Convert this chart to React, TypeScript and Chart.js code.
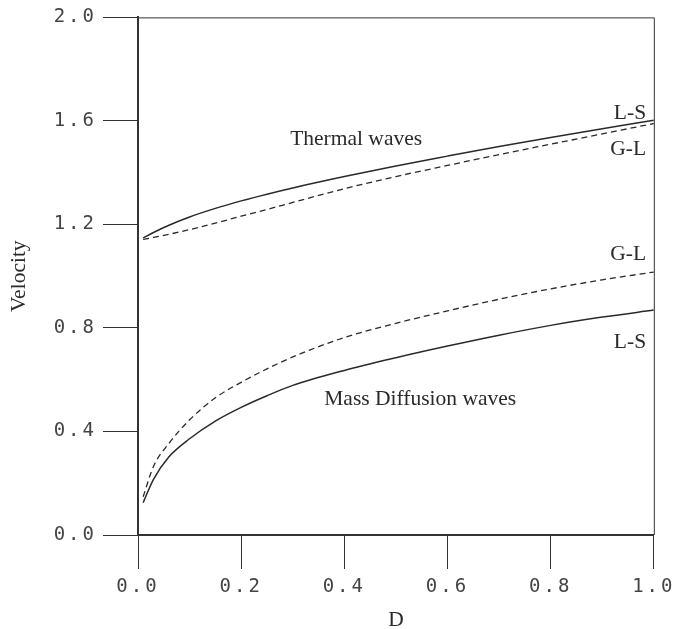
import React, { useEffect, useRef } from "react";
import { Chart, registerables } from "chart.js";

Chart.register(...registerables);

const dValues = [0.01, 0.03, 0.06, 0.1, 0.15, 0.2, 0.25, 0.3, 0.4, 0.5, 0.6, 0.7, 0.8, 0.9, 1.0];
const thermalLS = [1.148, 1.169, 1.197, 1.229, 1.262, 1.291, 1.317, 1.341, 1.385, 1.426, 1.464, 1.501, 1.536, 1.57, 1.603];
const thermalGL = [1.142, 1.15, 1.162, 1.18, 1.205, 1.232, 1.258, 1.285, 1.338, 1.385, 1.428, 1.47, 1.51, 1.55, 1.59];
const massLS = [0.125, 0.215, 0.302, 0.372, 0.44, 0.493, 0.538, 0.578, 0.636, 0.685, 0.73, 0.772, 0.81, 0.842, 0.869];
const massGL = [0.148, 0.265, 0.354, 0.445, 0.53, 0.59, 0.642, 0.688, 0.763, 0.818, 0.866, 0.911, 0.951, 0.986, 1.016];
const xTicks = [0, 0.2, 0.4, 0.6, 0.8, 1.0];
const yTicks = [0, 0.4, 0.8, 1.2, 1.6, 2.0];

const annotations = [
  { text: "Thermal waves", x: 0.295, y: 1.506, align: "left" },
  { text: "L-S", x: 0.985, y: 1.606, align: "right" },
  { text: "G-L", x: 0.985, y: 1.467, align: "right" },
  { text: "G-L", x: 0.985, y: 1.064, align: "right" },
  { text: "L-S", x: 0.985, y: 0.722, align: "right" },
  { text: "Mass Diffusion waves", x: 0.361, y: 0.502, align: "left" },
];

const INK = "#2a2a2a";
const SERIF = '"Liberation Serif", serif';

function series(values: number[]) {
  return dValues.map((d, i) => ({ x: d, y: values[i] }));
}

export default function App() {
  const ref = useRef<HTMLCanvasElement | null>(null);

  useEffect(() => {
    if (!ref.current) return;
    const framePlugin = {
      id: "frame",
      afterDatasetsDraw(chart: any) {
        const ctx = chart.ctx;
        const { top, right, left, bottom } = chart.chartArea;
        ctx.save();
        ctx.strokeStyle = "#333";
        ctx.lineWidth = 1;
        ctx.beginPath();
        ctx.moveTo(left, top + 0.5);
        ctx.lineTo(right + 0.5, top + 0.5);
        ctx.lineTo(right + 0.5, bottom);
        ctx.stroke();
        const xs = chart.scales.x;
        const ys = chart.scales.y;
        ctx.fillStyle = INK;
        ctx.font = `21.5px ${SERIF}`;
        ctx.textBaseline = "alphabetic";
        for (const a of annotations) {
          ctx.textAlign = a.align as CanvasTextAlign;
          ctx.fillText(a.text, xs.getPixelForValue(a.x), ys.getPixelForValue(a.y));
        }
        ctx.restore();
        (ctx as any).letterSpacing = "3px";
      },
      afterDraw(chart: any) {
        (chart.ctx as any).letterSpacing = "0px";
      },
    };

    const tickFont = { family: '"DejaVu Sans Mono", monospace', size: 19 };

    const chart = new Chart(ref.current, {
      type: "line",
      data: {
        datasets: [
          { label: "Thermal L-S", data: series(thermalLS), borderColor: INK, borderWidth: 1.5, pointRadius: 0, cubicInterpolationMode: "monotone" },
          { label: "Thermal G-L", data: series(thermalGL), borderColor: INK, borderWidth: 1.3, borderDash: [6, 4], pointRadius: 0, cubicInterpolationMode: "monotone" },
          { label: "Mass L-S", data: series(massLS), borderColor: INK, borderWidth: 1.5, pointRadius: 0, cubicInterpolationMode: "monotone" },
          { label: "Mass G-L", data: series(massGL), borderColor: INK, borderWidth: 1.3, borderDash: [6, 4], pointRadius: 0, cubicInterpolationMode: "monotone" },
        ],
      },
      options: {
        animation: false,
        responsive: true,
        maintainAspectRatio: false,
        layout: { padding: { top: 17, right: 22, left: 0, bottom: 0 } },
        plugins: { legend: { display: false }, tooltip: { enabled: false } },
        scales: {
          x: {
            type: "linear",
            min: 0,
            max: 1,
            afterBuildTicks: (s: any) => { s.ticks = xTicks.map((v) => ({ value: v })); },
            afterFit: (s: any) => { s.height = 94; },
            ticks: { callback: (v: any) => Number(v).toFixed(1), font: tickFont, color: "#444", padding: 7, maxRotation: 0, z: 1 },
            grid: { drawOnChartArea: false, drawTicks: true, tickLength: 34, color: "#333", lineWidth: 1 },
            border: { display: true, width: 2, color: "#333" },
            title: { display: true, text: "D", font: { family: SERIF, size: 21.5, lineHeight: 0.85 }, color: INK, padding: 0 },
          },
          y: {
            type: "linear",
            min: 0,
            max: 2,
            afterBuildTicks: (s: any) => { s.ticks = yTicks.map((v) => ({ value: v })); },
            afterFit: (s: any) => { s.width = 138; },
            ticks: { callback: (v: any) => Number(v).toFixed(1), font: tickFont, color: "#444", padding: 6, z: 1 },
            grid: { drawOnChartArea: false, drawTicks: true, tickLength: 35, color: "#333", lineWidth: 1 },
            border: { display: true, width: 2, color: "#333" },
            title: { display: true, text: "Velocity", font: { family: SERIF, size: 21.5, lineHeight: 1 }, color: INK, padding: { top: 9, bottom: 0 } },
          },
        },
      },
      plugins: [framePlugin],
    } as any);
    return () => chart.destroy();
  }, []);

  return (
    <div style={{ position: "fixed", left: 0, top: 0, width: 678, height: 629, background: "#fff" }}>
      <canvas ref={ref} />
    </div>
  );
}
